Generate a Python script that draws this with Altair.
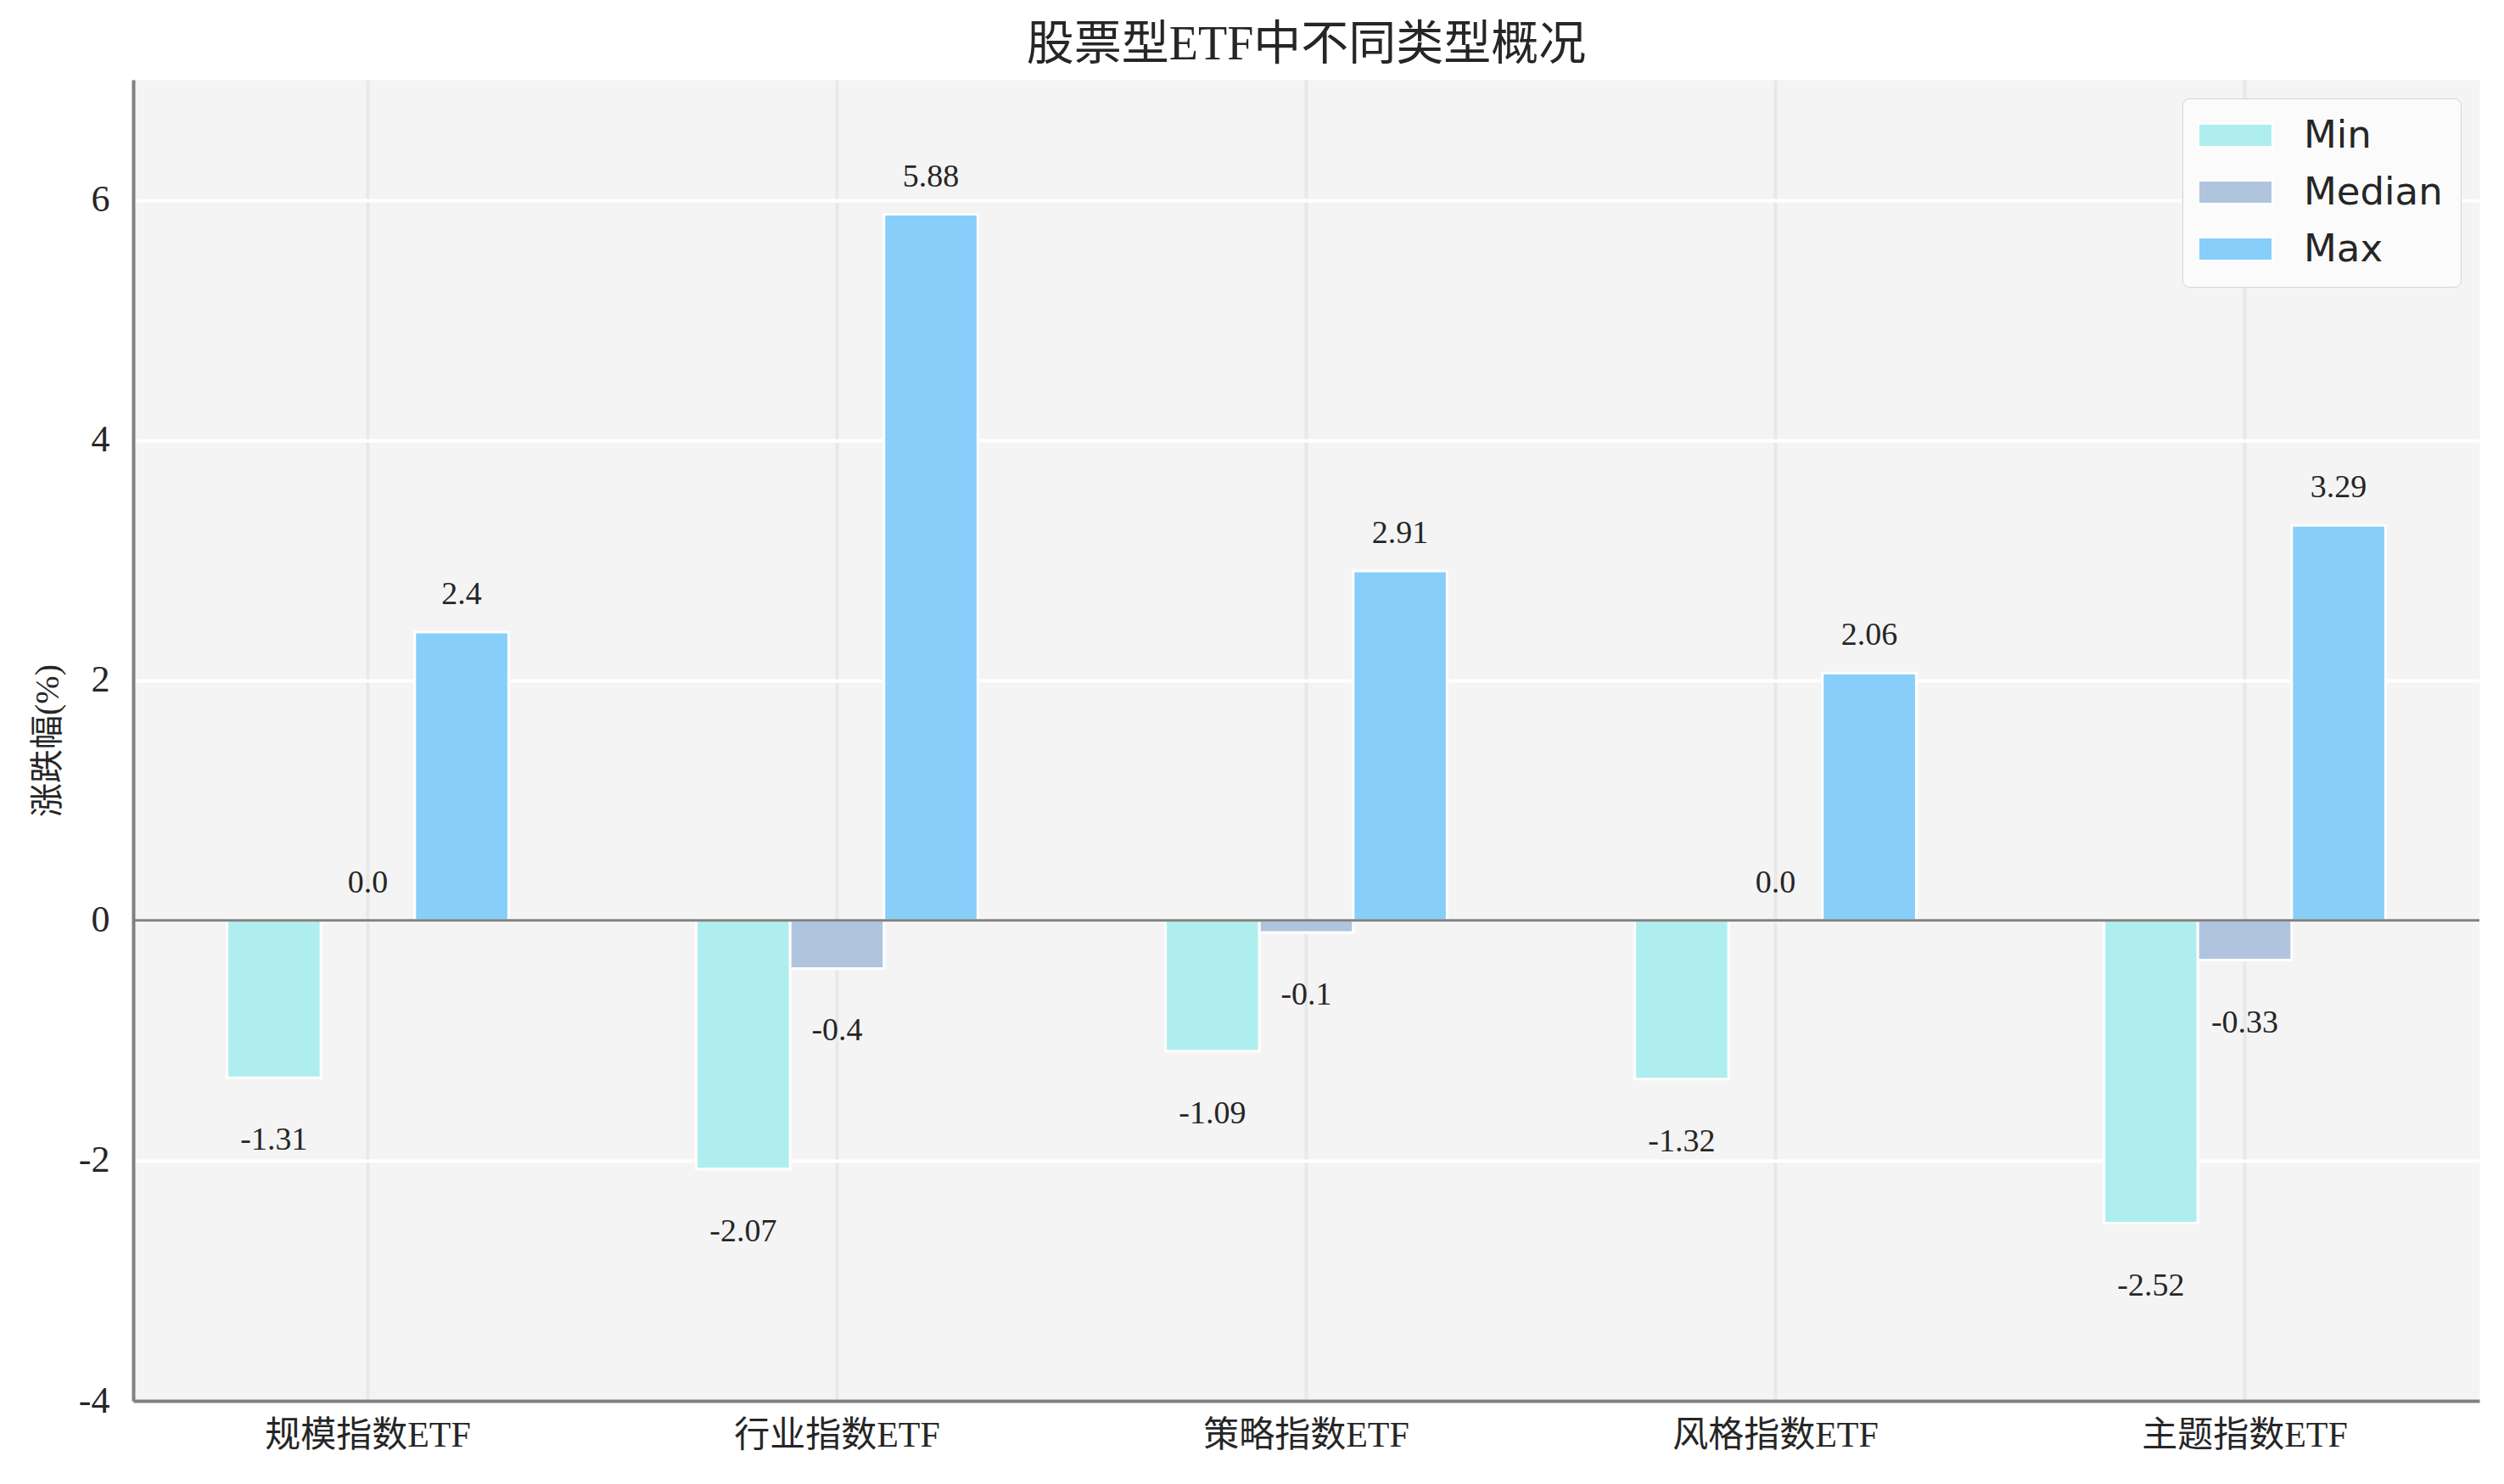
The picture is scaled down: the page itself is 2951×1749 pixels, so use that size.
import altair as alt
import pandas as pd

categories = ["规模指数ETF", "行业指数ETF", "策略指数ETF", "风格指数ETF", "主题指数ETF"]
min_values = [-1.31, -2.07, -1.09, -1.32, -2.52]
median_values = [0.0, -0.4, -0.1, 0.0, -0.33]
max_values = [2.4, 5.88, 2.91, 2.06, 3.29]
series_names = ["Min", "Median", "Max"]
series_colors = ["#AFEEEE", "#B0C4DE", "#87CEFA"]
y_ticks = [-4, -2, 0, 2, 4, 6]
title_text = "股票型ETF中不同类型概况"
y_title = "涨跌幅(%)"

rows = []
for name, vals in zip(series_names, [min_values, median_values, max_values]):
    for cat, v in zip(categories, vals):
        rows.append({"category": cat, "series": name, "value": v, "label": str(v)})
df = pd.DataFrame(rows)
zero_df = pd.DataFrame({"v": [0]})

SERIF = "Liberation Serif, Noto Sans CJK SC"
TXT = "#262626"

x_enc = alt.X(
    "category:N", sort=categories, title=None,
    scale=alt.Scale(paddingInner=0.4, paddingOuter=0.2),
    axis=alt.Axis(labelAngle=0, labelFont=SERIF, labelFontSize=42, labelColor=TXT,
                  labelPadding=20, labelLimit=0, ticks=False, domainColor="#808080",
                  domainWidth=4, grid=True, gridColor="#e8e8e8", gridWidth=4,
                  bandPosition=0.5),
)
xo_enc = alt.XOffset("series:N", sort=series_names,
                     scale=alt.Scale(paddingInner=0, paddingOuter=0))
y_enc = alt.Y(
    "value:Q", title=y_title,
    scale=alt.Scale(domain=[-4, 7], nice=False, zero=False),
    axis=alt.Axis(values=y_ticks, labelExpr="'' + datum.value", labelFont=SERIF,
                  labelFontSize=44, labelColor=TXT, labelPadding=28, ticks=False,
                  domainColor="#808080", domainWidth=4, grid=True, gridColor="#ffffff",
                  gridWidth=4, titleFont=SERIF, titleFontSize=40, titleFontWeight="normal",
                  titleColor=TXT, titlePadding=16),
)

color_enc = alt.Color(
    "series:N", sort=series_names,
    scale=alt.Scale(domain=series_names, range=series_colors),
    legend=alt.Legend(title=None, orient="top-right", offset=22,
                      symbolType="M-2.2,-0.7H2.2V0.7H-2.2Z", symbolSize=1600,
                      symbolOffset=19,
                      symbolStrokeColor="white", symbolStrokeWidth=3, symbolOpacity=1,
                      labelFont="DejaVu Sans", labelFontSize=45, labelColor=TXT,
                      labelLimit=0, labelOffset=58, fillColor="#fbfbfb",
                      strokeColor="#d4d4d4", cornerRadius=8, padding=21, rowPadding=21),
)

bars = alt.Chart(df).mark_bar(stroke="white", strokeWidth=3, opacity=1).encode(
    x=x_enc, xOffset=xo_enc, y=y_enc, color=color_enc
)

zero_line = alt.Chart(zero_df).mark_rule(color="#808080", strokeWidth=3).encode(
    y=alt.Y("v:Q")
)

text_base = alt.Chart(df).encode(
    x=alt.X("category:N", sort=categories),
    xOffset=alt.XOffset("series:N", sort=series_names),
    y=alt.Y("value:Q"),
    text="label:N",
)
text_pos = text_base.transform_filter("datum.value >= 0").mark_text(
    font=SERIF, fontSize=38, color=TXT, baseline="middle", align="center", dy=-44
)
text_neg = text_base.transform_filter("datum.value < 0").mark_text(
    font=SERIF, fontSize=38, color=TXT, baseline="middle", align="center", dy=74
)

chart = alt.layer(bars, zero_line, text_pos, text_neg).properties(
    width=2765,
    height=1557,
    title=alt.Title(title_text, font=SERIF, fontSize=56, fontWeight="normal",
                    color=TXT, offset=12),
    autosize=alt.AutoSizeParams(type="none"),
    padding={"left": 149, "top": 86, "right": 20, "bottom": 80},
).configure_view(fill="#f4f4f4", stroke="transparent")

chart.save("out.html", embed_options={"renderer": "svg", "actions": False})
